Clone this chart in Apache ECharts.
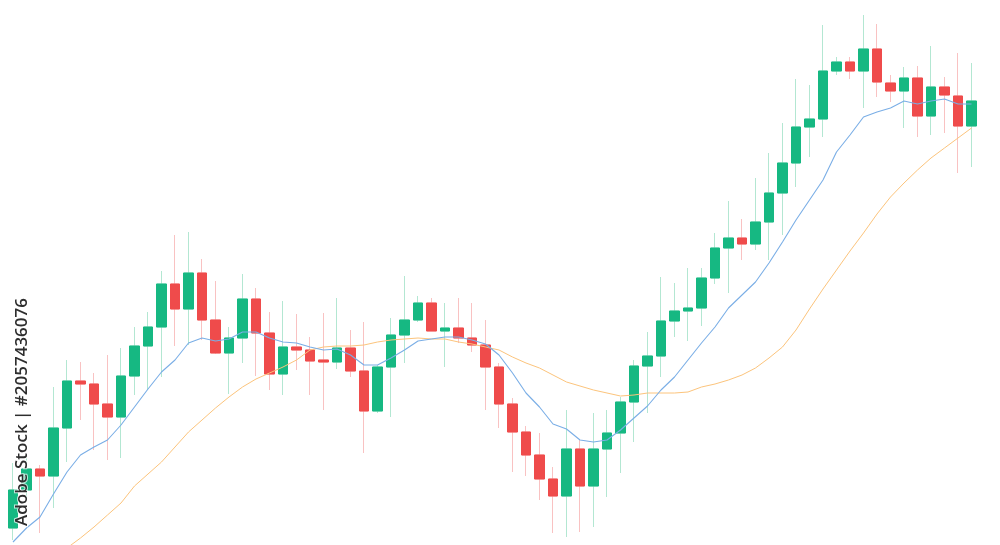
<!DOCTYPE html>
<html>
<head>
<meta charset="utf-8">
<script src="https://cdn.jsdelivr.net/npm/echarts@6/dist/echarts.min.js"></script>
<style>
html,body{margin:0;padding:0;background:#fff;}
#chart{width:1000px;height:545px;}
</style>
</head>
<body>
<div id="chart"></div>
<script>
// Candle values (price units), each row: open, close, low, high
const opens  = [17,55,76,69,117,164,161,141,128,169,199,218,261,236,272,225,192,207,246,212,171,198,195,185,183,197,174,134,178,210,225,242,214,217,207,200,178,141,113,90,66,49,96,59,96,112,143,179,189,224,234,237,267,297,307,301,323,352,382,418,426,474,483,474,496,462,454,467,429,458,449,419];
const closes = [55,76,69,117,164,161,141,128,169,199,218,261,236,272,225,192,207,246,212,171,198,195,184,183,197,174,134,178,210,225,242,214,217,207,200,178,141,113,90,66,49,96,59,96,112,143,179,189,224,234,237,267,297,307,301,323,352,382,418,426,474,483,474,496,463,454,467,429,458,450,419,444];
const lows   = [5,45,12,37,83,125,95,85,87,150,155,168,199,200,205,191,151,182,169,155,150,175,150,135,176,168,92,132,128,182,223,214,178,202,193,135,117,73,69,45,12,8,13,18,48,72,103,132,168,208,204,219,261,252,285,295,285,310,358,388,408,470,466,437,448,443,417,408,410,412,372,378];
const highs  = [82,87,80,158,185,183,172,190,197,218,233,274,310,313,286,264,218,271,257,233,244,231,208,232,247,215,223,180,227,269,249,247,242,247,242,225,182,147,119,112,78,135,105,132,135,148,185,213,268,262,277,277,312,344,326,367,392,422,466,460,520,488,488,530,521,470,478,479,499,468,492,482];

// Moving average lines (price units)
const maShort = [3,17,28,51,73,90,98,105,120,138,156,173,185,202,207,204,206,213,213,207,203,202,198,195,196,190,180,180,187,195,204,206,208,208,205,201,190,172,152,138,121,116,105,103,105,115,127,139,155,168,185,202,218,237,250,263,282,303,325,345,365,393,410,428,433,437,444,441,444,446,441,441];
const maLong  = [null,null,null,null,-3,7,18,30,42,59,71,83,98,113,125,137,148,158,166,172,178,185,195,198,199,199,200,203,205,206,207,206,206,203,201,198,195,188,182,177,170,163,159,155,152,149,150,152,152,152,153,158,161,165,170,177,187,198,215,236,256,275,294,312,331,348,362,375,387,397,407,417];

const categories = opens.map((_, i) => 'D' + (i + 1));

const wickData = opens.map((o, i) => [o, closes[i], lows[i], highs[i]]);
const bodyData = opens.map((o, i) => [o, closes[i], Math.min(o, closes[i]), Math.max(o, closes[i])]);

const UP = '#16b882', DOWN = '#ef4b4b';
const UP_WICK = '#b3e7d2', DOWN_WICK = '#f9c2c2';

const chart = echarts.init(document.getElementById('chart'), null, {renderer: 'canvas'});
chart.setOption({
  animation: false,
  backgroundColor: '#ffffff',
  grid: {left: 6.25, right: 21.75, top: 0, bottom: 0},
  xAxis: {type: 'category', data: categories, show: false, boundaryGap: true},
  yAxis: {type: 'value', min: 0, max: 545, show: false, splitLine: {show: false}},
  series: [
    {
      type: 'candlestick', data: wickData, barWidth: 10,
      itemStyle: {color: 'transparent', color0: 'transparent', borderColor: UP_WICK, borderColor0: DOWN_WICK, borderWidth: 1}
    },
    {
      type: 'candlestick', data: bodyData, barWidth: 10,
      itemStyle: {color: UP, color0: DOWN, borderColor: UP, borderColor0: DOWN, borderWidth: 1}
    },
    {
      type: 'line', data: maLong, symbol: 'none', smooth: false, clip: true,
      lineStyle: {color: '#fcc47c', width: 1}
    },
    {
      type: 'line', data: maShort, symbol: 'none', smooth: false, clip: true,
      lineStyle: {color: '#7aaee6', width: 1.1}
    }
  ],
  graphic: [
    {
      type: 'text', x: 22, y: 412, rotation: Math.PI / 2, z: 100,
      style: {
        text: 'Adobe Stock | #2057436076',
        fill: '#2e2e2e', font: '600 17px "Open Sans", "Noto Sans", sans-serif',
        align: 'center', verticalAlign: 'middle',
        stroke: 'rgba(255,255,255,0.7)', lineWidth: 2
      }
    }
  ]
});
</script>
</body>
</html>
